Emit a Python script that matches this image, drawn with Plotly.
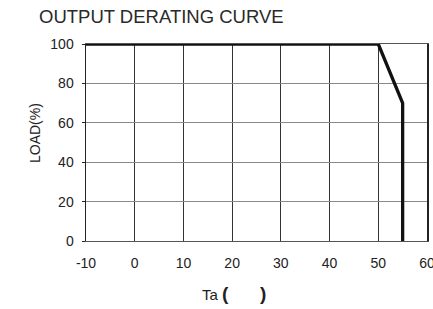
import plotly.graph_objects as go

temps = [-10, 50, 55, 55]
loads = [100, 100, 70, 0]
x_ticks = [-10, 0, 10, 20, 30, 40, 50, 60]
y_ticks = [0, 20, 40, 60, 80, 100]

fig = go.Figure()
fig.add_trace(go.Scatter(x=temps, y=loads, mode="lines",
                         line=dict(color="#111111", width=3.3), hoverinfo="skip"))

font = "Liberation Sans, Arial, sans-serif"
W, H = 433, 309
L, R, T, B = 86, 6, 44, 68
pw, ph = W - L - R, H - T - B

fig.update_layout(
    width=W, height=H,
    margin=dict(l=L, r=R, t=T, b=B),
    paper_bgcolor="white", plot_bgcolor="white",
    showlegend=False,
    font=dict(family=font, size=14, color="#222222"),
    title=dict(text="OUTPUT DERATING CURVE", x=39/W, xanchor="left",
               y=1-17/H, yanchor="middle",
               font=dict(family=font, size=18.5, color="#2a2a2a")),
    annotations=[
        dict(text="Ta <span style='font-size:19px'><b>(</b>      <b>)</b></span>",
             xref="paper", yref="paper", x=(200-L)/pw, y=-(293-(H-B))/ph,
             xanchor="left", yanchor="middle", showarrow=False,
             font=dict(family=font, size=15, color="#222222")),
        dict(text="LOAD(%)", textangle=-90,
             xref="paper", yref="paper", x=(35-L)/pw, y=((H-B)-133)/ph,
             xanchor="center", yanchor="middle", showarrow=False,
             font=dict(family=font, size=14, color="#222222")),
    ],
)
fig.update_xaxes(range=[-10, 60], tickmode="array", tickvals=x_ticks,
                 ticktext=[str(v) for v in x_ticks], automargin=False,
                 ticklabeloverflow="allow",
                 showgrid=True, gridcolor="#333333", gridwidth=1,
                 showline=True, linecolor="#555555", linewidth=1, mirror=True,
                 zeroline=False, ticks="", ticklabelstandoff=9)
fig.update_yaxes(range=[0, 100], tickmode="array", tickvals=y_ticks,
                 ticktext=[str(v) for v in y_ticks], automargin=False,
                 showgrid=True, gridcolor="#888888", gridwidth=1,
                 showline=True, linecolor="#222222", linewidth=1.5, mirror=True,
                 zeroline=False, ticks="outside", ticklen=3, tickcolor="#222222",
                 ticklabelstandoff=5)

fig.write_html("out.html", config={"displayModeBar": False, "staticPlot": True},
               post_script="document.body.style.margin='0';")
